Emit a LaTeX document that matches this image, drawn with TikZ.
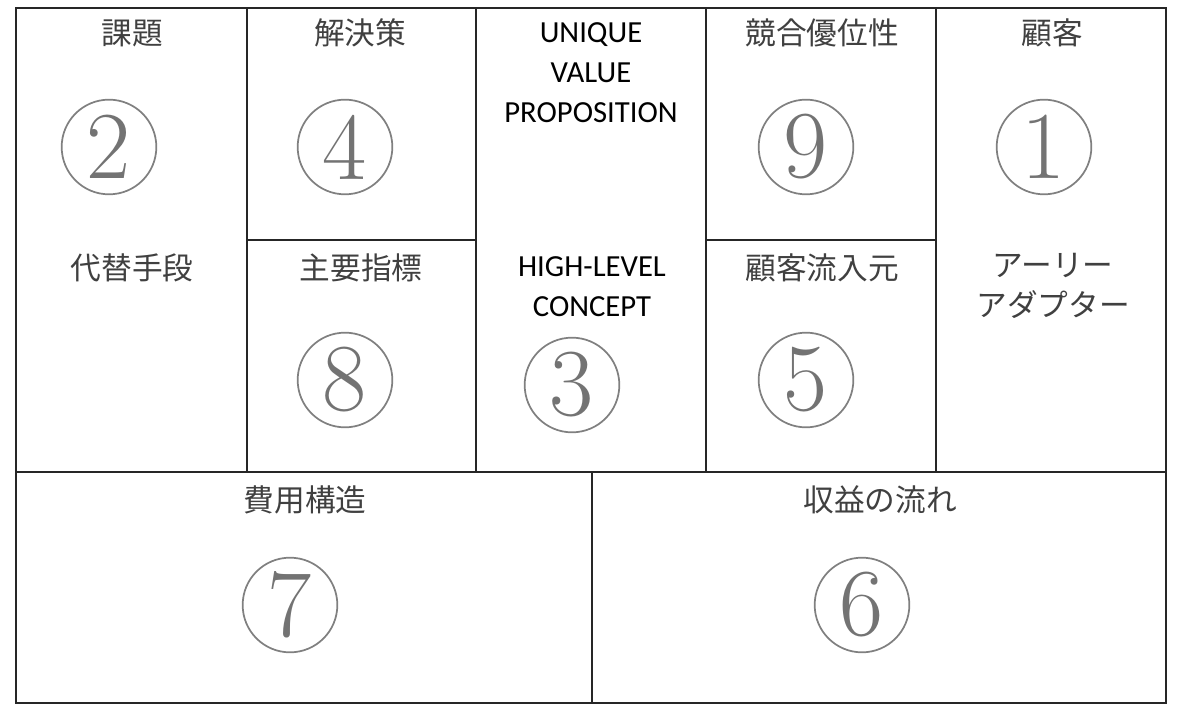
\documentclass[tikz,border=0pt]{standalone}
\usepackage{fontspec}
\newfontfamily\jpfont{Noto Sans CJK JP}
\newfontfamily\calfont{Carlito}
\begin{document}
\begin{tikzpicture}[x=0.75pt, y=-0.75pt,
    grid/.style={line width=1.2pt, black!85},
    jplabel/.style={font=\jpfont\fontsize{23}{30}\selectfont, text=black!75, align=center, inner sep=0pt},
    enlabel/.style={font=\calfont\fontsize{23}{30}\selectfont, align=center, inner sep=0pt},
    circnum/.style={circle, draw=gray, line width=1.3pt, text=black!55, minimum size=71pt, inner sep=0pt, font=\fontsize{72}{72}\selectfont}]
            \useasboundingbox (0,0) rectangle (1180,716);

            % Moldura e linhas da grade
            \draw[grid] (16,8) rectangle (1166,703);
            \draw[grid] (16,472) -- (1166,472);
            \foreach \x in {247,476,706,936}
                \draw[grid] (\x,8) -- (\x,472);
            \draw[grid] (247,240) -- (476,240);
            \draw[grid] (706,240) -- (936,240);
            \draw[grid] (592,472) -- (592,703);

            % Coluna 1
            \node[jplabel] (problem) at (132,33) {課題};
            \node[circnum] (n2) at (109,147) {2};
            \node[jplabel] (alternatives) at (132,268) {代替手段};

            % Coluna 2
            \node[jplabel] (solution) at (360,33) {解決策};
            \node[circnum] (n4) at (345,147) {4};
            \node[jplabel] (metrics) at (361,268) {主要指標};
            \node[circnum] (n8) at (345,380) {8};

            % Coluna 3
            \node[enlabel] (uvp) at (591,73) {UNIQUE\\VALUE\\PROPOSITION};
            \node[enlabel] (concept) at (592,287) {HIGH-LEVEL\\CONCEPT};
            \node[circnum] (n3) at (572,385) {3};

            % Coluna 4
            \node[jplabel] (advantage) at (822,33) {競合優位性};
            \node[circnum] (n9) at (806,147) {9};
            \node[jplabel] (channels) at (822,268) {顧客流入元};
            \node[circnum] (n5) at (806,380) {5};

            % Coluna 5
            \node[jplabel] (customers) at (1052,33) {顧客};
            \node[circnum] (n1) at (1044,147) {1};
            \node[jplabel] (adopters) at (1053,286) {アーリー\\アダプター};

            % Linha de baixo
            \node[jplabel] (cost) at (305,500) {費用構造};
            \node[circnum] (n7) at (290,605) {7};
            \node[jplabel] (revenue) at (880,500) {収益の流れ};
            \node[circnum] (n6) at (862,605) {6};

        \end{tikzpicture}
\end{document}
